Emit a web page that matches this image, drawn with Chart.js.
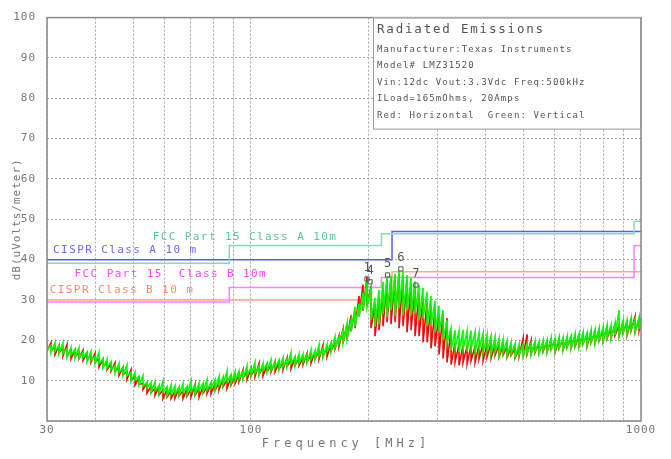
<!DOCTYPE html>
<html><head><meta charset="utf-8">
<script src="https://cdn.jsdelivr.net/npm/chart.js@4.4.1/dist/chart.umd.min.js"></script>
<style>html,body{margin:0;padding:0;background:#fff}#wrap{width:671px;height:459px;position:relative}</style>
</head><body><div id="wrap"><canvas id="c" width="671" height="459"></canvas></div>
<script>
// ---- data ----
const freqMHz = [30.0,30.72,31.45,32.2,32.97,33.76,34.57,35.39,36.24,37.1,
37.99,38.9,39.83,40.78,41.75,42.75,43.77,44.82,45.89,46.99,
48.1,49.26,50.44,51.64,52.88,54.14,55.44,56.76,58.12,59.51,
60.93,62.39,63.88,65.4,66.97,68.57,70.21,71.88,73.6,75.36,
77.15,79.0,80.89,82.82,84.8,86.83,88.9,91.03,93.2,95.43,
97.71,100.04,102.4,104.9,107.4,110.0,112.6,115.3,118.0,120.9,
123.7,126.7,129.7,132.8,136.0,139.2,142.6,146.0,149.5,153.0,
156.7,160.4,164.3,168.2,172.2,176.3,180.5,184.9,189.3,193.8,
198.4,203.2,208.0,213.0,218.1,223.3,228.6,234.1,239.7,245.4,
251.3,257.3,263.4,269.7,276.2,282.8,289.5,296.4,303.5,310.8,
318.2,325.9,333.7,341.6,349.8,358.2,366.7,375.5,384.5,393.7,
403.1,412.7,422.6,432.7,443.0,453.6,464.5,475.6,486.9,498.6,
510.5,522.7,535.2,548.0,561.1,574.5,588.3,602.3,616.7,631.5,
646.6,661.8,677.6,693.8,710.4,727.4,744.8,762.6,780.8,799.5,
818.5,838.1,858.1,878.6,899.6,921.1,943.1,965.7,988.8,1000];

const verticalHi = [19.6,18.8,19.5,18.6,19.4,18.0,18.2,17.7,18.2,17.0,
17.1,17.2,16.1,17.0,15.3,15.3,14.7,13.8,14.3,13.2,
13.9,12.1,12.0,11.1,11.2,9.6,9.6,9.7,8.7,9.9,
8.5,8.9,8.7,8.3,9.3,8.6,9.9,8.8,9.4,9.3,
10.2,9.5,10.2,11.0,10.7,12.4,11.5,12.2,12.4,12.3,
13.6,13.2,14.5,13.6,14.3,14.3,15.2,14.5,15.1,15.7,
15.3,16.9,15.9,16.6,16.6,16.4,17.6,17.3,18.8,18.0,
19.0,19.3,20.8,20.8,22.4,24.2,25.1,28.3,29.1,31.8,
34.8,33.0,30.5,32.5,34.5,35.8,36.0,36.5,37.3,37.0,
36.2,35.5,34.6,33.8,33.0,32.0,31.0,29.8,28.6,27.5,
25.0,23.0,22.5,22.3,22.6,22.2,22.4,22.0,21.8,21.7,
21.4,21.0,20.8,20.5,20.2,19.9,19.5,19.2,19.0,19.0,
19.2,19.4,19.8,19.7,20.0,20.1,20.6,20.5,20.8,20.7,
21.0,21.1,21.6,21.6,22.0,21.9,22.5,22.6,23.0,23.2,
23.8,23.8,24.3,27.5,24.9,25.0,25.5,25.3,25.8,25.6];

const verticalLo = [17.6,16.9,17.3,16.7,16.7,15.8,16.4,15.6,15.6,15.7,
14.7,15.0,14.3,14.3,13.1,13.1,12.7,11.9,12.1,11.3,
11.2,9.9,10.2,9.0,8.6,8.3,7.2,7.5,6.9,7.2,
6.3,6.7,6.7,6.4,7.1,6.7,7.2,6.6,7.6,7.2,
7.6,8.2,7.8,8.8,8.9,9.7,9.3,10.0,10.4,10.4,
11.4,11.3,11.8,11.4,12.5,12.2,12.6,13.2,12.7,13.5,
13.5,14.2,13.7,14.4,14.6,14.5,15.4,15.4,16.1,15.8,
17.2,17.2,18.2,19.5,19.4,20.3,22.2,23.4,25.8,27.5,
28.3,25.0,23.4,24.0,26.4,25.8,27.4,26.0,27.9,26.2,
27.4,26.2,26.6,25.0,25.4,23.6,23.6,22.0,21.9,20.1,
19.4,17.6,18.0,17.1,17.8,17.2,17.9,17.0,17.6,16.8,
17.4,16.6,17.1,16.3,16.9,16.1,16.6,15.8,16.4,16.0,
16.8,16.4,17.2,16.7,17.5,17.0,17.7,17.3,18.0,17.5,
18.3,17.9,18.7,18.3,19.1,18.7,19.5,19.2,20.1,19.8,
20.7,20.4,21.3,21.0,21.8,21.5,22.4,22.0,22.8,22.4];

const horizontalHi = [19.0,19.4,18.4,18.7,18.1,18.9,17.5,17.6,17.0,17.5,
16.8,16.3,16.7,15.5,15.3,14.5,14.1,14.4,13.2,13.3,
12.3,12.7,11.0,10.7,9.3,9.4,8.6,8.1,8.6,7.7,
7.8,7.4,7.4,8.2,7.5,8.0,7.9,9.0,8.0,8.5,
8.3,9.3,9.2,9.4,10.6,10.2,10.8,11.1,11.5,12.6,
12.2,13.0,12.9,14.2,13.3,13.9,13.7,14.7,14.5,14.5,
15.6,15.1,15.6,15.5,15.7,16.7,16.3,17.2,17.3,18.7,
18.1,19.0,19.4,21.1,22.7,24.1,26.2,27.5,31.0,33.8,
35.8,33.5,29.0,30.5,33.0,35.0,35.5,36.0,36.5,36.0,
35.0,34.0,33.0,31.5,30.5,29.5,28.5,27.5,26.5,26.8,
25.5,22.5,19.5,19.0,18.8,18.5,18.7,18.5,18.8,19.2,
19.0,19.3,19.0,18.9,18.6,18.4,18.2,18.0,17.8,20.5,
21.5,20.0,19.2,19.3,19.5,19.7,20.0,20.0,20.3,20.2,
20.5,20.6,21.0,21.0,21.5,21.3,22.0,22.0,22.5,22.6,
23.2,23.1,23.7,23.8,24.3,24.4,24.9,25.9,25.2,24.9];

const horizontalLo = [17.3,17.4,16.5,16.9,16.2,16.3,15.4,16.0,15.5,15.0,
15.2,14.6,14.6,13.4,13.4,12.7,12.4,12.4,11.3,11.5,
10.4,10.1,8.9,9.1,7.8,6.9,7.0,6.4,6.5,5.6,
5.9,5.6,5.7,6.2,5.6,6.2,6.0,6.4,5.9,6.9,
6.8,6.8,7.6,7.7,8.5,8.1,8.9,9.3,9.8,10.6,
10.3,11.2,11.0,11.6,11.2,12.3,12.2,12.2,12.9,12.8,
13.5,13.0,13.7,13.7,14.0,14.7,14.4,15.4,15.4,16.1,
16.0,17.4,17.9,18.6,19.2,20.1,22.2,23.0,26.0,27.3,
28.5,23.0,21.0,22.5,23.5,24.5,24.0,24.5,23.0,23.5,
22.0,22.5,21.0,21.0,19.5,19.5,18.0,18.5,16.5,15.5,
14.5,14.0,14.6,13.8,14.5,14.2,15.0,14.6,15.4,15.0,
15.9,15.6,16.3,15.9,16.4,15.8,16.3,15.7,16.1,16.0,
16.6,16.7,17.0,17.0,17.2,17.3,17.9,17.0,18.1,17.8,
18.4,18.3,18.5,18.6,19.2,18.5,19.6,19.4,19.9,20.0,
20.5,20.8,21.2,21.2,21.9,21.3,22.5,22.2,22.6,22.7];

// limit lines (MHz, dBuV/m)
const cisprAFreq  = [30, 230, 230, 1000];
const cisprALevel = [40, 40, 47, 47];
const fccAFreq    = [30, 88, 88, 216, 216, 960, 960, 1000];
const fccALevel   = [39.1, 39.1, 43.5, 43.5, 46.4, 46.4, 49.5, 49.5];
const fccBFreq    = [30, 88, 88, 216, 216, 960, 960, 1000];
const fccBLevel   = [29.5, 29.5, 33.1, 33.1, 35.6, 35.6, 43.5, 43.5];
const cisprBFreq  = [30, 230, 230, 1000];
const cisprBLevel = [30, 30, 37, 37];

// markers
const markerIds   = ['1', '4', '5', '6', '7'];
const markerFreq  = [198.4, 202.0, 224.0, 242.3, 264.8];
const markerLevel = [35.2, 34.5, 36.2, 37.7, 33.7];

// limit labels: text, anchor freq, anchor level
const limitLabelText  = ['FCC Part 15 Class A 10m', 'CISPR Class A 10 m', 'FCC Part 15  Class B 10m', 'CISPR Class B 10 m'];
const limitLabelFreq  = [56.0, 31.1, 35.3, 30.5];
const limitLabelLevel = [45.5, 42.3, 36.4, 32.5];

const infoLines = ['Radiated Emissions', 'Manufacturer:Texas Instruments', 'Model# LMZ31520',
  'Vin:12dc Vout:3.3Vdc Freq:500kHz', 'ILoad=165mOhms, 20Amps', 'Red: Horizontal  Green: Vertical'];

const xGridValues = [30,40,50,60,70,80,90,100,200,300,400,500,600,700,800,900,1000];
const xTickValues = [30, 100, 1000];
const xTickLabels = ['30', '100', '1000'];
const yTickValues = [0,10,20,30,40,50,60,70,80,90,100];

// ---- build ----
function spikes(hi, lo) {
  const out = [];
  freqMHz.forEach((f, i) => { out.push({x: f, y: hi[i]}); out.push({x: f, y: lo[i]}); });
  return out;
}
function pairs(fs, ls) { return fs.map((f, i) => ({x: f, y: ls[i]})); }

const MONO = '"DejaVu Sans Mono", monospace';
const limitColors = ['#5fc29e', '#6a6af0', '#ff44ff', '#ff8866'];

const decor = {
  id: 'decor',
  beforeDraw(c) { c.ctx.letterSpacing = '1px'; },
  afterDatasetsDraw(c) {
    const ctx = c.ctx, xs = c.scales.x, ys = c.scales.y;
    ctx.save();
    ctx.letterSpacing = '1.4px';
    ctx.font = '11px ' + MONO;
    ctx.textBaseline = 'middle';
    ctx.textAlign = 'left';
    limitLabelText.forEach((t, i) => {
      ctx.fillStyle = limitColors[i];
      ctx.fillText(t, xs.getPixelForValue(limitLabelFreq[i]), ys.getPixelForValue(limitLabelLevel[i]));
    });
    const meta = c.getDatasetMeta(0);
    ctx.font = '12px ' + MONO;
    ctx.letterSpacing = '0px';
    ctx.textAlign = 'center';
    ctx.fillStyle = '#555';
    meta.data.forEach((pt, i) => { ctx.fillText(markerIds[i], pt.x, pt.y - 11); });
    ctx.restore();
  },
  afterDraw(c) {
    const ctx = c.ctx, a = c.chartArea;
    ctx.save();
    ctx.strokeStyle = '#8a8a8a';
    ctx.lineWidth = 1.5;
    ctx.strokeRect(a.left, a.top, a.right - a.left, a.bottom - a.top);
    const bx = a.right - 268, by = a.top, bw = 268, bh = 111;
    ctx.fillStyle = '#fff';
    ctx.fillRect(bx, by, bw, bh);
    ctx.lineWidth = 1;
    ctx.strokeStyle = '#999';
    ctx.strokeRect(bx + 0.5, by + 0.5, bw - 1, bh);
    ctx.textAlign = 'left';
    ctx.textBaseline = 'middle';
    ctx.fillStyle = '#555';
    ctx.font = '12.5px ' + MONO;
    ctx.letterSpacing = '1.8px';
    ctx.fillText(infoLines[0], bx + 4, by + 12);
    ctx.font = '9px ' + MONO;
    ctx.letterSpacing = '1.1px';
    for (let i = 1; i < infoLines.length; i++) {
      ctx.fillText(infoLines[i], bx + 4, by + 32 + (i - 1) * 16.5);
    }
    ctx.font = '12px ' + MONO;
    ctx.letterSpacing = '4px';
    ctx.textAlign = 'center';
    ctx.fillStyle = '#777';
    ctx.fillText('Frequency [MHz]', (a.left + a.right) / 2 + 2, 444);
    ctx.restore();
  }
};

const traceWidth = 1.6;

new Chart(document.getElementById('c').getContext('2d'), {
  type: 'line',
  data: {
    datasets: [
      { label: 'Markers', type: 'scatter', data: pairs(markerFreq, markerLevel), order: -1,
        pointStyle: 'rect', pointRadius: 3, borderColor: '#555', backgroundColor: 'rgba(0,0,0,0)', borderWidth: 1, showLine: false },
      { label: 'Vertical', data: spikes(verticalHi, verticalLo), order: 0,
        borderColor: '#00ff00', borderWidth: traceWidth, pointRadius: 0, fill: false },
      { label: 'Horizontal', data: spikes(horizontalHi, horizontalLo), order: 1,
        borderColor: '#ff0000', borderWidth: traceWidth, pointRadius: 0, fill: false },
      { label: 'FCC Part 15 Class A 10m', data: pairs(fccAFreq, fccALevel), order: 2,
        borderColor: '#8ad8bb', borderWidth: 1.5, pointRadius: 0 },
      { label: 'CISPR Class A 10 m', data: pairs(cisprAFreq, cisprALevel), order: 3,
        borderColor: '#5a5aff', borderWidth: 1.5, pointRadius: 0 },
      { label: 'FCC Part 15 Class B 10m', data: pairs(fccBFreq, fccBLevel), order: 4,
        borderColor: '#ff80ff', borderWidth: 1.5, pointRadius: 0 },
      { label: 'CISPR Class B 10 m', data: pairs(cisprBFreq, cisprBLevel), order: 5,
        borderColor: '#ffaa90', borderWidth: 1.5, pointRadius: 0 }
    ]
  },
  options: {
    responsive: false, animation: false, devicePixelRatio: 1,
    layout: { padding: { top: 12, right: 30, left: 0, bottom: 0 } },
    plugins: { legend: { display: false }, tooltip: { enabled: false } },
    scales: {
      x: {
        type: 'logarithmic', min: 30, max: 1000, position: 'bottom',
        afterBuildTicks: s => { s.ticks = xGridValues.map(v => ({ value: v })); },
        afterFit: s => { s.height = 0; },
        ticks: { display: false },
        grid: { color: '#a8a8a8', drawTicks: false, lineWidth: 1 },
        border: { display: false, dash: [2, 2] }
      },
      x2: {
        type: 'logarithmic', min: 30, max: 1000, position: 'bottom',
        afterBuildTicks: s => { s.ticks = xTickValues.map(v => ({ value: v })); },
        afterTickToLabelConversion: s => { s.ticks.forEach((t, i) => { t.label = xTickLabels[i]; }); },
        afterFit: s => { s.height = 38; },
        ticks: { autoSkip: false, maxRotation: 0, minRotation: 0, padding: 3, color: '#777',
          font: { family: MONO, size: 11 } },
        grid: { display: false, drawTicks: false },
        border: { display: false }
      },
      y: {
        type: 'linear', min: 0, max: 100,
        afterBuildTicks: s => { s.ticks = yTickValues.map(v => ({ value: v })); },
        afterFit: s => { s.width = 47; },
        ticks: { padding: 11, color: '#777', font: { family: MONO, size: 11 },
          callback: v => (v === 0 ? '' : String(v)) },
        grid: { color: '#a8a8a8', drawTicks: false, lineWidth: 1 },
        border: { display: false, dash: [2, 2] },
        title: { display: true, text: 'dB(uVolts/meter)', color: '#777',
          font: { family: MONO, size: 11 }, padding: { top: 11, bottom: 0 } }
      }
    }
  },
  plugins: [decor]
});
</script>
</body></html>
